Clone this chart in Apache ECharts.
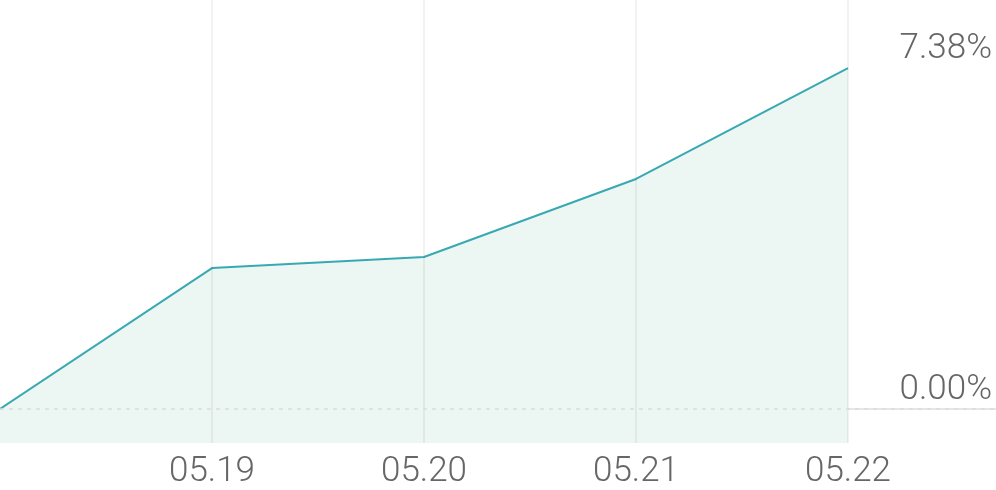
<!DOCTYPE html>
<html><head><meta charset="utf-8">
<script src="https://cdn.jsdelivr.net/npm/echarts@6/dist/echarts.min.js"></script>
<style>html,body{margin:0;padding:0;background:#fff}#c{width:996px;height:490px}</style>
</head><body><div id="c"></div>
<script>
const dates = ['05.18', '05.19', '05.20', '05.21', '05.22'];
const returns = [0, 3.05, 3.29, 4.98, 7.38];
const endLabel = '7.38%';
const zeroLabel = '0.00%';

const chart = echarts.init(document.getElementById('c'));
const font = 'Roboto';
const labelStyle = {
  show: true,
  position: 'insideEndTop',
  color: '#666',
  fontFamily: font,
  fontWeight: 300,
  fontSize: 35,
  distance: [4, 1]
};
chart.setOption({
  animation: false,
  grid: { left: 0, right: 0, top: 0, bottom: 45 },
  xAxis: {
    type: 'value',
    min: 0,
    max: 996 / 212,
    interval: 1,
    axisLine: { show: true, lineStyle: { color: '#e6e6e6', width: 2 } },
    axisTick: { show: false },
    splitLine: { show: false },
    axisLabel: {
      show: true,
      color: '#666',
      fontFamily: font,
      fontWeight: 300,
      fontSize: 35,
      margin: 12,
      showMinLabel: false,
      showMaxLabel: false,
      formatter: v => (Number.isInteger(v) && v > 0 && v < dates.length) ? dates[v] : ''
    }
  },
  yAxis: {
    type: 'value',
    min: -0.738,
    max: 8.856,
    show: false,
    splitLine: { show: false }
  },
  series: [{
    type: 'line',
    z: 2,
    data: returns.map((v, i) => [i, v]),
    symbol: 'none',
    lineStyle: { color: '#38a9b2', width: 2 },
    areaStyle: { color: '#ecf6f3', origin: 'start', opacity: 1 },
    markLine: {
      silent: true,
      z: 4,
      symbol: 'none',
      data: [
        { yAxis: 0, lineStyle: { color: '#dcdcdc', type: [4, 5], width: 1.5 },
          label: Object.assign({}, labelStyle, { formatter: zeroLabel }) },
        { yAxis: 7.38, lineStyle: { color: 'rgba(0,0,0,0)', width: 0 },
          label: Object.assign({}, labelStyle, { formatter: endLabel }) }
      ]
    }
  }, {
    type: 'line',
    z: 3,
    data: [],
    markLine: {
      silent: true,
      z: 3,
      symbol: 'none',
      label: { show: false },
      lineStyle: { color: 'rgba(0,0,0,0.05)', type: 'solid', width: 2 },
      data: dates.slice(1).map((d, i) => ({ xAxis: i + 1 }))
    }
  }]
});
</script></body></html>
